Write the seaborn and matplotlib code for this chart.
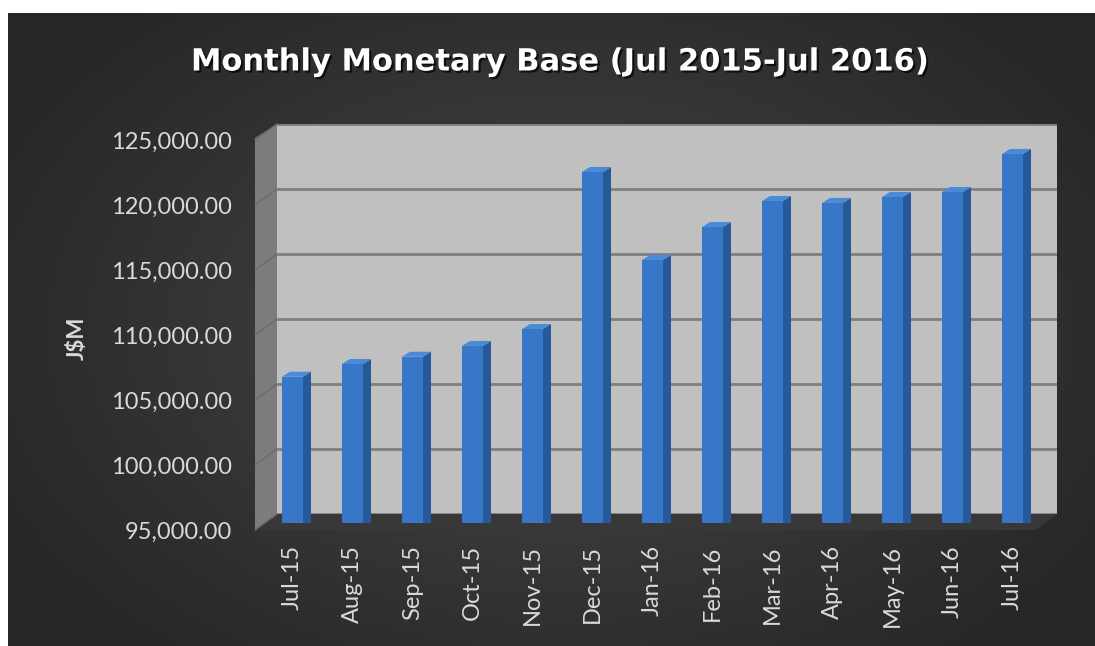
import numpy as np
import matplotlib
matplotlib.use('Agg')
import matplotlib.pyplot as plt
import matplotlib.patheffects as pe
from matplotlib.patches import Polygon
import seaborn as sns

# Data (J$M)
months = ['Jul-15', 'Aug-15', 'Sep-15', 'Oct-15', 'Nov-15', 'Dec-15', 'Jan-16',
          'Feb-16', 'Mar-16', 'Apr-16', 'May-16', 'Jun-16', 'Jul-16']
monetary_base = [106250, 107230, 107790, 108620, 109920, 122000, 115230,
                 117770, 119770, 119620, 120080, 120460, 123390]
y_ticks = [95000, 100000, 105000, 110000, 115000, 120000, 125000]
y_min, y_max = 95000, 125000

sns.set_style('white')
plt.rcParams['font.family'] = ['Lato', 'DejaVu Sans']

W, H = 1095, 646
fig = plt.figure(figsize=(W / 100, H / 100), dpi=100)
fig.patch.set_facecolor('white')


def box(left, top, width, height):
    # pixel box (from top-left) -> figure fraction
    return [left / W, 1 - (top + height) / H, width / W, height / H]


# background panel with radial gradient
bg = fig.add_axes([0, 0, 1, 1])
yy, xx = np.mgrid[0:H, 0:W]
r = np.hypot((xx - 560) / 640, (yy - 330) / 430)
shade = 0.28 - 0.13 * np.clip(r, 0, 1)
img = np.dstack([shade] * 3)
img[(xx < 8) | (yy < 13)] = 1.0
bg.imshow(img, extent=[0, W, H, 0], aspect='auto')
bg.set_xlim(0, W)
bg.set_ylim(H, 0)
bg.axis('off')

# side wall and floor of the 3D box
bg.add_patch(Polygon([(255, 138), (277, 124), (277, 514), (255, 530)],
                     closed=True, facecolor='#7c7c7c', edgecolor='none'))
bg.add_patch(Polygon([(277, 514), (1057, 514), (1035, 530), (255, 530)],
                     closed=True, facecolor='#383838', edgecolor='none'))
for i in range(len(y_ticks)):
    yb = 514 - i * 65
    bg.plot([277, 255], [yb, yb + 16], color='#6c6c6c', lw=1)

# back wall with gridlines
wall = fig.add_axes(box(277, 124, 780, 390))
wall.set_facecolor('#c0c0c0')
wall.set_xlim(-0.5, len(months) - 0.5)
wall.set_ylim(y_min, y_max)
for v in y_ticks:
    wall.axhline(v, color='#7f7f7f', lw=2)
wall.set_xticks([])
wall.set_yticks([])
for s in wall.spines.values():
    s.set_visible(False)

# bars (front plane)
ax = fig.add_axes(box(262.5, 133, 780, 390))
ax.patch.set_alpha(0)
sns.barplot(x=months, y=monetary_base, color='#3877c7', saturation=1,
            width=0.35, linewidth=0, ax=ax)
ax.set_xlim(-0.5, len(months) - 0.5)
ax.set_ylim(y_min, y_max)

# depth of each bar: 8 px right, 5 px up
p0 = ax.transData.transform((0, y_min))
p1 = ax.transData.transform((1, y_max))
dx = 8 / (p1[0] - p0[0])
dy = 5 * (y_max - y_min) / (p1[1] - p0[1])
for p in ax.patches:
    xl = p.get_x()
    xr = xl + p.get_width()
    top = p.get_y() + p.get_height()
    ax.add_patch(Polygon([(xr, y_min), (xr, top), (xr + dx, top + dy), (xr + dx, y_min)],
                         closed=True, facecolor='#27589a', edgecolor='none'))
    ax.add_patch(Polygon([(xl, top), (xr, top), (xr + dx, top + dy), (xl + dx, top + dy)],
                         closed=True, facecolor='#4a8bd8', edgecolor='none'))

ax.set_xlabel('')
ax.set_ylabel('')
ax.set_yticks([])
ax.tick_params(axis='x', length=0, pad=16, labelsize=17, colors='#d9d9d9',
               labelrotation=90)
for s in ax.spines.values():
    s.set_visible(False)

# y tick labels sit on the front edge of the box
lab = fig.add_axes(box(255, 140, 780, 390))
lab.patch.set_alpha(0)
lab.set_ylim(y_min, y_max)
lab.set_yticks(y_ticks)
lab.set_yticklabels([f'{v:,.2f}' for v in y_ticks])
lab.set_xticks([])
lab.tick_params(axis='y', length=0, pad=16.5, labelsize=17, colors='#d9d9d9')
for s in lab.spines.values():
    s.set_visible(False)

fig.text(77 / W, 1 - 338 / H, 'J$M', rotation=90, ha='center', va='center',
         fontsize=16, fontweight='bold', color='#d9d9d9')

fig.text(559 / W, 1 - 62 / H, 'Monthly Monetary Base (Jul 2015-Jul 2016)',
         ha='center', va='center', fontsize=22, fontweight='bold', color='white',
         family=['DejaVu Sans'],
         path_effects=[pe.SimplePatchShadow(offset=(1.5, -1.5), shadow_rgbFace='black',
                                            alpha=0.7), pe.Normal()])

fig.savefig('out.png', dpi=100)
